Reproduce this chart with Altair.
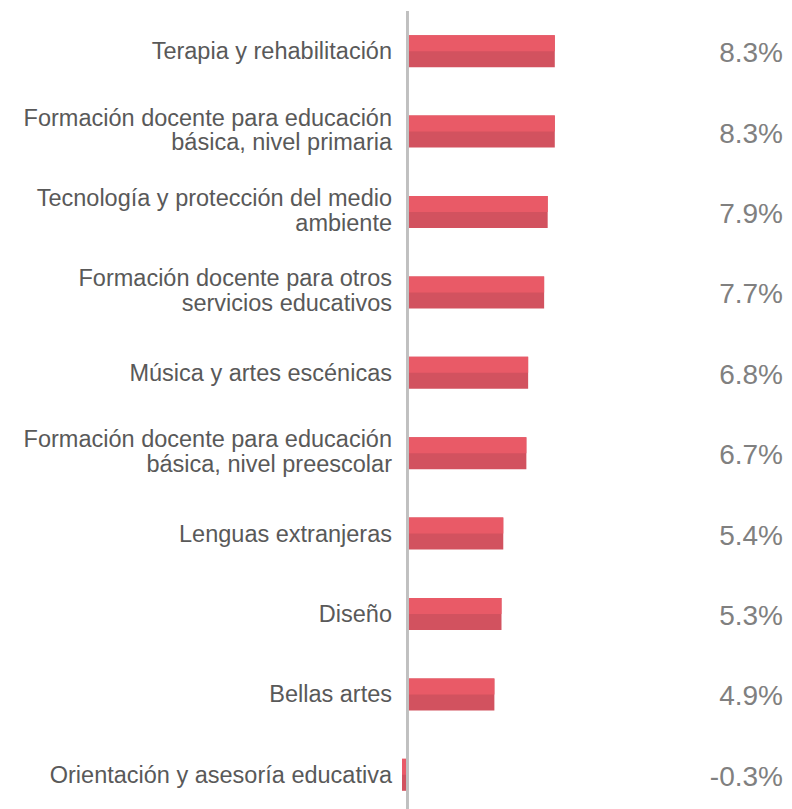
import altair as alt
import pandas as pd

categories = [
    "Terapia y rehabilitación",
    "Formación docente para educación básica, nivel primaria",
    "Tecnología y protección del medio ambiente",
    "Formación docente para otros servicios educativos",
    "Música y artes escénicas",
    "Formación docente para educación básica, nivel preescolar",
    "Lenguas extranjeras",
    "Diseño",
    "Bellas artes",
    "Orientación y asesoría educativa",
]
display_labels = [
    "Terapia y rehabilitación",
    "Formación docente para educación\nbásica, nivel primaria",
    "Tecnología y protección del medio\nambiente",
    "Formación docente para otros\nservicios educativos",
    "Música y artes escénicas",
    "Formación docente para educación\nbásica, nivel preescolar",
    "Lenguas extranjeras",
    "Diseño",
    "Bellas artes",
    "Orientación y asesoría educativa",
]
values = [8.3, 8.3, 7.9, 7.7, 6.8, 6.7, 5.4, 5.3, 4.9, -0.3]

df = pd.DataFrame({
    "cat": categories,
    "label": display_labels,
    "value": values,
    "vtext": [f"{v:.1f}%" for v in values],
    "multi": ["\n" in s for s in display_labels],
})

y_enc = alt.Y("cat:N", sort=categories, axis=None,
              scale=alt.Scale(paddingInner=0.6, paddingOuter=0.3))
x_scale = alt.Scale(domain=[-0.75, 10], nice=False, zero=False)

base = alt.Chart(df)

dark = base.mark_bar(color="#D2525F", size=32).encode(
    x=alt.X("value:Q", scale=x_scale, axis=None), y=y_enc)
light = base.mark_bar(color="#E95A67", size=16, yOffset=-8).encode(
    x=alt.X("value:Q", scale=x_scale, axis=None), y=y_enc)

rule = base.mark_rule(color="#C0C0C0", strokeWidth=2).encode(
    x=alt.datum(0, scale=x_scale))

text_style = dict(align="right", baseline="middle", font="Liberation Sans",
                  fontSize=23.5, color="#595959", lineBreak="\n", lineHeight=24.5)

cat_single = base.transform_filter("!datum.multi").mark_text(
    dy=1, **text_style
).encode(x=alt.value(-2), y=y_enc, text="label:N")

cat_multi = base.transform_filter("datum.multi").mark_text(
    dy=-13, **text_style
).encode(x=alt.value(-2), y=y_enc, text="label:N")

val_text = base.mark_text(
    align="right", baseline="middle", font="Liberation Sans", fontSize=28,
    color="#808080", dy=3,
).encode(x=alt.value(389), y=y_enc, text="vtext:N")

chart = alt.layer(dark, light, rule, cat_single, cat_multi, val_text).properties(
    width=191, height=804,
    autosize=alt.AutoSizeParams(type="none"),
    padding={"left": 386, "top": 3, "right": 199, "bottom": 0},
).configure_view(stroke=None)

chart.save("out.html", embed_options={"renderer": "svg", "actions": False})
